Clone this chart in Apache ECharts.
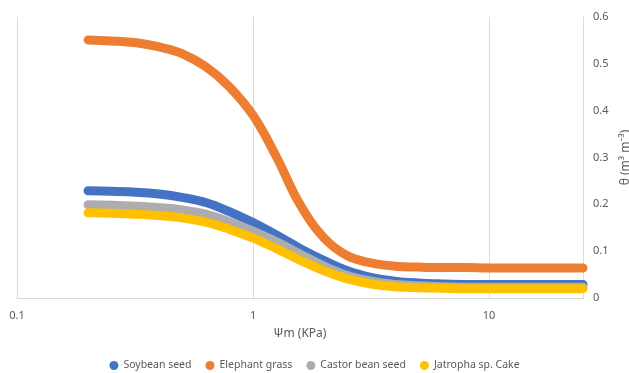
<!DOCTYPE html>
<html>
<head>
<meta charset="utf-8">
<script src="https://cdn.jsdelivr.net/npm/echarts@6/dist/echarts.min.js"></script>
<style>
  html, body { margin: 0; padding: 0; background: #fff; }
  #chart { width: 629px; height: 373px; }
</style>
</head>
<body>
<div id="chart"></div>
<script>
// matric potential (KPa)
const psi = [0.2, 0.25, 0.32, 0.4, 0.5, 0.63, 0.79, 1, 1.26, 1.58, 2, 2.51, 3.16, 3.98, 5, 6.3, 7.94, 10, 15.8, 25];

// water content θ (m3 m-3) for each material
const soybean  = [0.229, 0.228, 0.226, 0.222, 0.215, 0.204, 0.185, 0.161, 0.134, 0.106, 0.080, 0.058, 0.044, 0.036, 0.032, 0.030, 0.029, 0.029, 0.029, 0.029];
const elephant = [0.551, 0.549, 0.545, 0.536, 0.522, 0.494, 0.452, 0.390, 0.300, 0.200, 0.128, 0.090, 0.075, 0.068, 0.066, 0.065, 0.065, 0.064, 0.064, 0.064];
const castor   = [0.199, 0.198, 0.196, 0.193, 0.188, 0.179, 0.163, 0.143, 0.120, 0.094, 0.068, 0.048, 0.036, 0.029, 0.026, 0.024, 0.023, 0.023, 0.023, 0.023];
const jatropha = [0.182, 0.181, 0.179, 0.176, 0.171, 0.162, 0.147, 0.128, 0.105, 0.081, 0.058, 0.041, 0.030, 0.024, 0.022, 0.021, 0.020, 0.020, 0.020, 0.020];

const names = ["Soybean seed", "Elephant grass", "Castor bean seed", "Jatropha sp. Cake"];
const colors = ["#4472C4", "#ED7D31", "#ADADAD", "#FFC000"];
const values = [soybean, elephant, castor, jatropha];

const font = "'Noto Sans', sans-serif";

function pairs(arr) {
  return psi.map((x, i) => [x, arr[i]]);
}

let chart = echarts.init(document.getElementById("chart"));

let option = {
  animation: false,
  textStyle: { fontFamily: font },
  grid: { left: 17, right: 46, top: 17, bottom: 75, outerBoundsMode: "none", containLabel: false },
  legend: {
    data: names,
    top: 355,
    left: "center",
    icon: "circle",
    itemWidth: 9,
    itemHeight: 9,
    itemGap: 14,
    textStyle: { color: "#595959", fontSize: 10.5, fontFamily: font }
  },
  xAxis: {
    type: "log",
    logBase: 10,
    min: 0.1,
    max: 25,
    name: "Ψm (KPa)",
    nameLocation: "middle",
    nameGap: 30,
    nameTextStyle: { color: "#595959", fontSize: 12 },
    axisLine: { show: true, lineStyle: { color: "#d9d9d9" } },
    axisTick: { show: false },
    axisLabel: {
      color: "#595959",
      fontSize: 11,
      margin: 12,
      showMaxLabel: false,
      formatter: v => String(v)
    },
    splitLine: {
      show: true,
      showMinLine: true,
      showMaxLine: false,
      lineStyle: { color: "#d9d9d9" }
    }
  },
  yAxis: {
    type: "value",
    position: "right",
    min: 0,
    max: 0.6,
    interval: 0.1,
    name: "θ (m³ m⁻³)",
    nameLocation: "middle",
    nameRotate: 90,
    nameGap: 34,
    nameTextStyle: { color: "#595959", fontSize: 12 },
    axisLine: { show: true, lineStyle: { color: "#d9d9d9" } },
    axisTick: { show: false },
    axisLabel: {
      color: "#595959",
      fontSize: 11,
      margin: 10,
      formatter: v => (v === 0 ? "0" : v.toFixed(1))
    },
    splitLine: { show: false }
  },
  series: []
};

for (let i = 0; i < names.length; i++) {
  option.series.push({
    name: names[i],
    type: "line",
    data: pairs(values[i]),
    smooth: 0.4,
    showSymbol: false,
    symbol: "circle",
    itemStyle: { color: colors[i] },
    lineStyle: { color: colors[i], width: 9, cap: "round", join: "round" }
  });
}

chart.setOption(option);
</script>
</body>
</html>
